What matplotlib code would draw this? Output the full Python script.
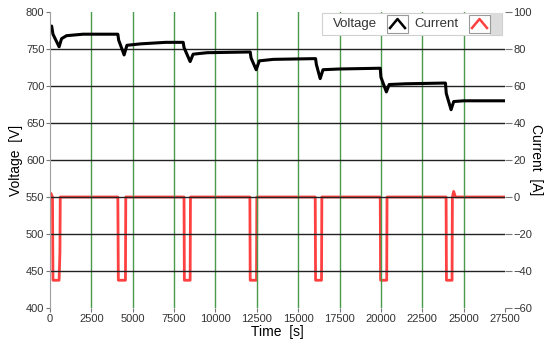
import matplotlib as mpl

mpl.use("Agg")
import matplotlib.pyplot as plt
from matplotlib.lines import Line2D
from matplotlib.patches import Rectangle

plt.rcParams['font.family'] = ['Liberation Sans', 'DejaVu Sans']

# voltage trace (time [s], voltage [V])
volt_t = [0, 100, 180, 550, 700, 1000, 2000, 4100,
          4150, 4480, 4650, 5500, 7000, 8050,
          8100, 8470, 8650, 9500, 12100,
          12150, 12460, 12650, 13500, 16050,
          16100, 16330, 16500, 17500, 19960,
          20000, 20330, 20500, 21500, 23900,
          23950, 24240, 24400, 25000, 27500]
volt_v = [780, 781, 770, 753, 764, 768, 770, 770,
          762, 742, 755, 757, 759, 759,
          752, 733, 743, 745, 746,
          738, 722, 734, 736, 737,
          729, 710, 722, 723, 724,
          712, 692, 702, 703, 704,
          690, 668, 679, 680, 680]

# current trace (time [s], current [A])
curr_t = [0, 50, 100, 150, 180, 550, 600, 620,
          4100, 4130, 4560, 4580,
          8100, 8120, 8470, 8490,
          12080, 12100, 12480, 12500,
          16030, 16050, 16410, 16430,
          19960, 19980, 20350, 20370,
          23940, 23960, 24300, 24320, 24400, 24500, 27500]
curr_a = [0, 2, 1, 0, -45, -45, -30, 0,
          0, -45, -45, 0,
          0, -45, -45, 0,
          0, -45, -45, 0,
          0, -45, -45, 0,
          0, -45, -45, 0,
          0, -45, -45, 0, 3, 0, 0]

x_ticks = list(range(0, 27501, 2500))
v_ticks = list(range(400, 801, 50))
a_ticks = list(range(-60, 101, 20))

fig = plt.figure(figsize=(5.47, 3.45), dpi=100)
ax = fig.add_axes([50 / 547, 37 / 345, 455 / 547, 296 / 345])
ax2 = ax.twinx()

ax.set_xlim(0, 27500)
ax.set_ylim(400, 800)
ax2.set_ylim(-60, 100)
ax.set_xticks(x_ticks)
ax.set_yticks(v_ticks)
ax2.set_yticks(a_ticks)

# grid: black horizontal, green vertical, none on the frame edges
ax.grid(axis='y', color='#222222', linewidth=1)
ax.grid(axis='x', color='#4a9a4a', linewidth=1)
for gl in [ax.get_ygridlines()[0], ax.get_ygridlines()[-1],
           ax.get_xgridlines()[0], ax.get_xgridlines()[-1]]:
    gl.set_visible(False)
ax.set_axisbelow(True)

for a in (ax, ax2):
    for s in ('top', 'right', 'bottom'):
        a.spines[s].set_visible(False)
ax2.spines['left'].set_visible(False)
ax.spines['left'].set_color('#a0a0a0')

ax2.plot(curr_t, curr_a, color='#ff4040', linewidth=2.0)
ax.plot(volt_t, volt_v, color='black', linewidth=2.2)
ax.set_zorder(ax2.get_zorder() + 1)
ax.patch.set_visible(False)

ax.tick_params(axis='both', labelsize=8, colors='#777777', labelcolor='#333333',
               length=3, width=0.8, pad=1)
ax2.tick_params(axis='y', labelsize=8, colors='#777777', labelcolor='#333333',
                length=5, width=0.8, pad=1)

ax.set_ylabel('Voltage  [V]', fontsize=10, labelpad=2)
ax.set_xlabel('Time  [s]', fontsize=10, labelpad=1)
ax2.set_ylabel('Current  [A]', fontsize=10, rotation=-90, labelpad=8)

# legend box at the top right
fig.patches.append(Rectangle((322 / 547, 1 - 35 / 345), 180 / 547, 22 / 345,
                             transform=fig.transFigure, facecolor='white',
                             edgecolor='#d0d0d0', linewidth=0.8, zorder=5))
fig.patches.append(Rectangle((490 / 547, 1 - 35 / 345), 12 / 547, 22 / 345,
                             transform=fig.transFigure, facecolor='#dcdcdc',
                             edgecolor='none', zorder=5))
fig.text(333 / 547, 1 - 24 / 345, 'Voltage', fontsize=9.5, va='center',
         color='#333333', zorder=6)
fig.text(414 / 547, 1 - 24 / 345, 'Current', fontsize=9.5, va='center',
         color='#333333', zorder=6)
for x0, col in [(387, 'black'), (469, '#ff4040')]:
    fig.patches.append(Rectangle((x0 / 547, 1 - 33 / 345), 21 / 547, 18 / 345,
                                 transform=fig.transFigure, facecolor='white',
                                 edgecolor='#999999', linewidth=0.8, zorder=6))
    fig.lines.append(Line2D([(x0 + 3) / 547, (x0 + 10.5) / 547, (x0 + 18) / 547],
                            [1 - 28 / 345, 1 - 19 / 345, 1 - 28 / 345],
                            transform=fig.transFigure, color=col,
                            linewidth=1.8, zorder=7))

fig.savefig('out.png', dpi=100)
